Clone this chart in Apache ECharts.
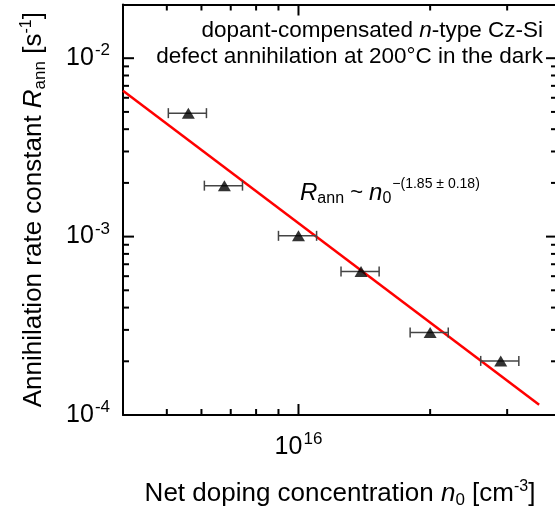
<!DOCTYPE html>
<html>
<head>
<meta charset="utf-8">
<script src="https://cdn.jsdelivr.net/npm/echarts@6/dist/echarts.min.js"></script>
<style>
html, body { margin: 0; padding: 0; background: #fff; }
#chart { width: 555px; height: 511px; }
</style>
</head>
<body>
<div id="chart"></div>
<script>
// Net doping concentration n0 [cm^-3]
const dopingN0 = [5.6e15, 6.77e15, 1.0e16, 1.39e16, 2.0e16, 2.9e16];
// Annihilation rate constant R_ann [s^-1] at 200 °C
const rateAnn = [4.92e-3, 1.93e-3, 1.01e-3, 6.38e-4, 2.9e-4, 2.01e-4];
// Relative uncertainty of n0
const dopingRelErr = [0.1, 0.1, 0.1, 0.1, 0.1, 0.1];

// Power-law fit  R_ann ~ n0^-(1.85 ± 0.18)
const fitExponent = -1.85;
const fitPrefactor = 4.73e26;
const fitRange = [3.97e15, 3.55e16];

// Axis ranges and tick positions
const xRange = [3.97e15, 3.9e16];
const yRange = [1e-4, 2e-2];
const xMajorTicks = [1e16];
const xMinorTicks = [5e15, 6e15, 7e15, 8e15, 9e15, 2e16, 3e16];
const yMajorTicks = [1e-4, 1e-3, 1e-2];
const yMinorTicks = [2e-4, 3e-4, 4e-4, 5e-4, 6e-4, 7e-4, 8e-4, 9e-4,
                     2e-3, 3e-3, 4e-3, 5e-3, 6e-3, 7e-3, 8e-3, 9e-3];

const FONT = '"Liberation Sans", Arial, Helvetica, sans-serif';

function powerLabel(v) {
  const e = Math.log10(v);
  if (Math.abs(e - Math.round(e)) > 1e-6) return '';
  return '10{sup|' + Math.round(e) + '}';
}

const tickRich = {
  sup: { fontSize: 17, fontFamily: FONT, color: '#000', padding: [0, 0, 15, 1] }
};

const nameRich = {
  i: { fontSize: 26, fontFamily: FONT, fontStyle: 'italic', color: '#000' },
  sub: { fontSize: 17, fontFamily: FONT, color: '#000', padding: [12, 0, 0, 0] },
  sup: { fontSize: 16, fontFamily: FONT, color: '#000', padding: [0, 0, 14, 0] }
};

const xTickData = xMajorTicks.concat(xMinorTicks).map(v => [v, yRange[0]]);
const yTickData = yMajorTicks.concat(yMinorTicks).map(v => [xRange[0], v]);

const errData = dopingN0.map((x, i) => [x, rateAnn[i], x * (1 - dopingRelErr[i]), x * (1 + dopingRelErr[i])]);
const pointData = dopingN0.map((x, i) => [x, rateAnn[i]]);
const fitData = fitRange.map(x => [x, fitPrefactor * Math.pow(x, fitExponent)]);

const axisLineStyle = { color: '#000', width: 2 };

function tickLine(x1, y1, x2, y2) {
  return { type: 'line', shape: { x1, y1, x2, y2 }, style: { stroke: '#000', lineWidth: 2 } };
}

const chart = echarts.init(document.getElementById('chart'), null, { renderer: 'canvas' });

chart.setOption({
  animation: false,
  backgroundColor: '#fff',
  grid: { left: 123, width: 434, top: 4.5, height: 410.5, containLabel: false, outerBoundsMode: 'none' },
  xAxis: [
    {
      type: 'log', logBase: 10, min: xRange[0], max: xRange[1], position: 'bottom',
      axisLine: { show: true, lineStyle: axisLineStyle },
      axisTick: { show: false }, splitLine: { show: false }, minorTick: { show: false },
      axisLabel: {
        formatter: powerLabel, margin: 16, color: '#000',
        fontSize: 25, fontFamily: FONT, rich: tickRich
      },
      name: 'Net doping concentration {i|n}{sub|0} [cm{sup|-3}]',
      nameLocation: 'middle', nameGap: 64,
      nameTextStyle: { fontSize: 26, fontFamily: FONT, color: '#000', rich: nameRich }
    },
    {
      type: 'log', logBase: 10, min: xRange[0], max: xRange[1], position: 'top',
      axisLine: { show: true, lineStyle: axisLineStyle },
      axisTick: { show: false }, splitLine: { show: false }, axisLabel: { show: false }
    }
  ],
  yAxis: [
    {
      type: 'log', logBase: 10, min: yRange[0], max: yRange[1], position: 'left',
      axisLine: { show: true, lineStyle: axisLineStyle },
      axisTick: { show: false }, splitLine: { show: false }, minorTick: { show: false },
      axisLabel: {
        formatter: powerLabel, margin: 13, color: '#000',
        fontSize: 25, fontFamily: FONT, rich: tickRich
      },
      name: 'Annihilation rate constant {i|R}{sub|ann} [s{sup|-1}]',
      nameLocation: 'middle', nameGap: 74, nameRotate: 90,
      nameTextStyle: { fontSize: 26, fontFamily: FONT, color: '#000', rich: nameRich }
    },
    {
      type: 'log', logBase: 10, min: yRange[0], max: yRange[1], position: 'right',
      axisLine: { show: true, lineStyle: axisLineStyle },
      axisTick: { show: false }, splitLine: { show: false }, axisLabel: { show: false }
    }
  ],
  series: [
    {
      // inward ticks on bottom and top frame
      type: 'custom', silent: true, z: 5,
      data: xTickData,
      encode: { x: 0, y: 1 },
      renderItem: function (params, api) {
        const len = params.dataIndex < xMajorTicks.length ? 11 : 6;
        const v = api.value(0);
        const b = api.coord([v, yRange[0]]);
        const t = api.coord([v, yRange[1]]);
        return { type: 'group', children: [
          tickLine(b[0], b[1], b[0], b[1] - len),
          tickLine(t[0], t[1], t[0], t[1] + len)
        ] };
      }
    },
    {
      // inward ticks on left and right frame
      type: 'custom', silent: true, z: 5,
      data: yTickData,
      encode: { x: 0, y: 1 },
      renderItem: function (params, api) {
        const len = params.dataIndex < yMajorTicks.length ? 11 : 6;
        const v = api.value(1);
        const l = api.coord([xRange[0], v]);
        const r = api.coord([xRange[1], v]);
        return { type: 'group', children: [
          tickLine(l[0], l[1], l[0] + len, l[1]),
          tickLine(r[0], r[1], r[0] - len, r[1])
        ] };
      }
    },
    {
      // fitted power law
      type: 'line', data: fitData, showSymbol: false, symbol: 'none', z: 3,
      lineStyle: { color: '#ff0000', width: 2.5 }
    },
    {
      // horizontal error bars on n0
      type: 'custom', z: 4,
      data: errData,
      encode: { x: 0, y: 1 },
      renderItem: function (params, api) {
        const y = api.value(1);
        const p0 = api.coord([api.value(2), y]);
        const p1 = api.coord([api.value(3), y]);
        const st = { stroke: '#444', lineWidth: 1.5 };
        return { type: 'group', children: [
          { type: 'line', shape: { x1: p0[0], y1: p0[1], x2: p1[0], y2: p1[1] }, style: st },
          { type: 'line', shape: { x1: p0[0], y1: p0[1] - 5, x2: p0[0], y2: p0[1] + 5 }, style: st },
          { type: 'line', shape: { x1: p1[0], y1: p1[1] - 5, x2: p1[0], y2: p1[1] + 5 }, style: st }
        ] };
      }
    },
    {
      type: 'scatter', data: pointData, symbol: 'triangle', symbolSize: [13, 11], z: 6,
      itemStyle: { color: '#000' }
    }
  ],
  graphic: [
    {
      type: 'text', x: 543, y: 31, z: 10,
      style: {
        text: 'dopant-compensated {i|n}-type Cz-Si',
        align: 'right', verticalAlign: 'middle',
        fontSize: 22.5, fontFamily: FONT, fill: '#000',
        rich: { i: { fontSize: 22.5, fontFamily: FONT, fontStyle: 'italic', fill: '#000' } }
      }
    },
    {
      type: 'text', x: 543, y: 57, z: 10,
      style: {
        text: 'defect annihilation at 200°C in the dark',
        align: 'right', verticalAlign: 'middle',
        fontSize: 22.5, fontFamily: FONT, fill: '#000'
      }
    },
    {
      type: 'text', x: 300, y: 193, z: 10,
      style: {
        text: '{i|R}{sub|ann} ~ {i|n}{sub|0}{sup|\u2212(1.85 \u00b1 0.18)}',
        align: 'left', verticalAlign: 'middle',
        fontSize: 22, fontFamily: FONT, fill: '#000',
        rich: {
          i: { fontSize: 24, fontFamily: FONT, fontStyle: 'italic', fill: '#000' },
          sub: { fontSize: 16, fontFamily: FONT, fill: '#000', padding: [12, 0, 0, 0] },
          sup: { fontSize: 14, fontFamily: FONT, fill: '#000', padding: [0, 0, 18, 1] }
        }
      }
    }
  ]
});
</script>
</body>
</html>
